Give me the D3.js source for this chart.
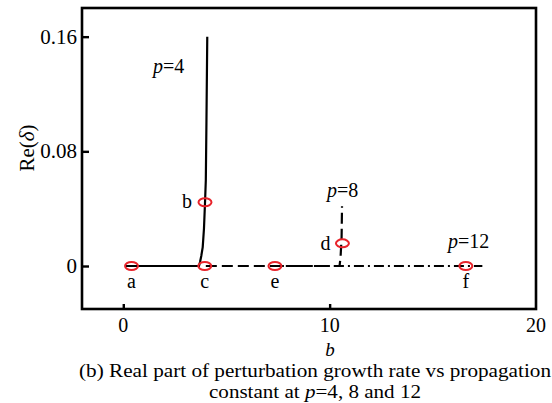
<!DOCTYPE html>
<html>
<head>
<meta charset="utf-8">
<script src="https://cdn.jsdelivr.net/npm/d3@7"></script>
<style>
  html, body { margin: 0; padding: 0; background: #fff; }
  svg { display: block; }
  text { font-family: "Liberation Serif", "Times New Roman", serif; fill: #000; }
</style>
</head>
<body>
<svg id="chart" width="552" height="403" font-family="Liberation Serif, Times New Roman, serif"></svg>
<script>
// Growth-rate curves Re(delta) versus propagation constant b
const p4B  = [0.1, 1, 2, 3, 3.67, 3.72, 3.78, 3.85, 3.91, 3.96, 4.0, 4.03, 4.07];
const p4Re = [0, 0, 0, 0, 0, 0.0028, 0.007, 0.0132, 0.026, 0.0438, 0.0598, 0.1, 0.16];

const p8B  = [4.0, 6, 8, 10, 10.48, 10.53, 10.58, 10.6];
const p8Re = [0, 0, 0, 0, 0, 0.0063, 0.02, 0.0417];

const p12B  = [7.3, 10, 14, 17.4];
const p12Re = [0, 0, 0, 0];

// Marked operating points
const pointNames = ["a", "b", "c", "d", "e", "f"];
const pointB     = [0.4, 3.96, 3.95, 10.62, 7.35, 16.6];
const pointRe    = [0, 0.0445, 0, 0.0158, 0, 0];

const xTicks = [0, 10, 20];
const yTicks = [0, 0.08, 0.16];
const yTickLabels = ["0", "0.08", "0.16"];

const svg = d3.select("#chart");
const x = d3.scaleLinear().domain([-2, 20]).range([82, 536]);
const y = d3.scaleLinear().domain([-0.03, 0.18]).range([309, 8]);

const pairs = (bs, rs) => bs.map((b, i) => [b, rs[i]]);
const line = d3.line().x(d => x(d[0])).y(d => y(d[1]));

// curves
svg.append("path").attr("d", line(pairs(p12B, p12Re)))
  .attr("fill", "none").attr("stroke", "#000").attr("stroke-width", 2)
  .attr("stroke-dasharray", "10,4,2,4");
svg.append("path").attr("d", line(pairs(p8B, p8Re)))
  .attr("fill", "none").attr("stroke", "#000").attr("stroke-width", 2.2)
  .attr("stroke-dasharray", "11,5");
svg.append("path").attr("d", line(pairs(p4B, p4Re)))
  .attr("fill", "none").attr("stroke", "#000").attr("stroke-width", 2.2);

// markers
const pts = pointNames.map((n, i) => ({ n, b: pointB[i], r: pointRe[i] }));
svg.selectAll("ellipse.mk").data(pts).join("ellipse")
  .attr("class", "mk")
  .attr("cx", d => x(d.b)).attr("cy", d => y(d.r))
  .attr("rx", 6.5).attr("ry", 4)
  .attr("fill", "none").attr("stroke", "#e8232a").attr("stroke-width", 2);

// marker letters
const letterPos = {
  a: { dx: 0, dy: 22, anchor: "middle" },
  c: { dx: 0, dy: 22, anchor: "middle" },
  e: { dx: 0, dy: 22, anchor: "middle" },
  f: { dx: 0, dy: 22, anchor: "middle" },
  b: { dx: -13, dy: 6, anchor: "end" },
  d: { dx: -12, dy: 7, anchor: "end" }
};
svg.selectAll("text.mk").data(pts).join("text")
  .attr("class", "mk")
  .attr("x", d => x(d.b) + letterPos[d.n].dx)
  .attr("y", d => y(d.r) + letterPos[d.n].dy)
  .attr("text-anchor", d => letterPos[d.n].anchor)
  .attr("font-size", 20)
  .text(d => d.n);

// curve labels
function pLabel(px, py, val) {
  const t = svg.append("text").attr("x", px).attr("y", py).attr("font-size", 20);
  t.append("tspan").attr("font-style", "italic").text("p");
  t.append("tspan").text("=" + val);
}
pLabel(153, 73, "4");
pLabel(327, 197, "8");
pLabel(448, 248, "12");

// frame
svg.append("rect")
  .attr("x", x(-2)).attr("y", y(0.18))
  .attr("width", x(20) - x(-2)).attr("height", y(-0.03) - y(0.18))
  .attr("fill", "none").attr("stroke", "#000").attr("stroke-width", 2.6);

// axes with inward ticks
const yAxis = d3.axisRight(y).tickValues(yTicks).tickSize(7).tickFormat("");
const gy = svg.append("g").attr("transform", `translate(${x(-2)},0)`).call(yAxis);
gy.select(".domain").remove();
gy.selectAll("line").attr("stroke-width", 2.4);

const xAxis = d3.axisTop(x).tickValues(xTicks.slice(0, 2)).tickSize(5).tickFormat("");
const gx = svg.append("g").attr("transform", `translate(0,${y(-0.03)})`).call(xAxis);
gx.select(".domain").remove();
gx.selectAll("line").attr("stroke-width", 2.4);

// tick labels
svg.selectAll("text.yt").data(yTicks).join("text")
  .attr("class", "yt")
  .attr("x", 77).attr("y", d => y(d) + 7)
  .attr("text-anchor", "end").attr("font-size", 21)
  .text((d, i) => yTickLabels[i]);
svg.selectAll("text.xt").data(xTicks).join("text")
  .attr("class", "xt")
  .attr("x", d => x(d)).attr("y", 332)
  .attr("text-anchor", "middle").attr("font-size", 20)
  .text(d => d);

// axis titles
svg.append("text").attr("x", 330).attr("y", 356)
  .attr("text-anchor", "middle").attr("font-size", 19).attr("font-style", "italic").text("b");
const yt = svg.append("text")
  .attr("transform", "translate(34,148) rotate(-90)")
  .attr("text-anchor", "middle").attr("font-size", 21);
yt.append("tspan").text("Re(");
yt.append("tspan").attr("font-style", "italic").text("δ");
yt.append("tspan").text(")");

// caption, slightly widened glyphs
svg.append("text").attr("x", 315).attr("y", 377)
  .attr("text-anchor", "middle").attr("font-size", 18.5)
  .attr("textLength", 472).attr("lengthAdjust", "spacingAndGlyphs")
  .text("(b) Real part of perturbation growth rate vs propagation");
const cap2 = svg.append("text").attr("x", 315).attr("y", 398)
  .attr("text-anchor", "middle").attr("font-size", 18.5)
  .attr("textLength", 212).attr("lengthAdjust", "spacingAndGlyphs");
cap2.append("tspan").text("constant at ");
cap2.append("tspan").attr("font-style", "italic").text("p");
cap2.append("tspan").text("=4, 8 and 12");
</script>
</body>
</html>
